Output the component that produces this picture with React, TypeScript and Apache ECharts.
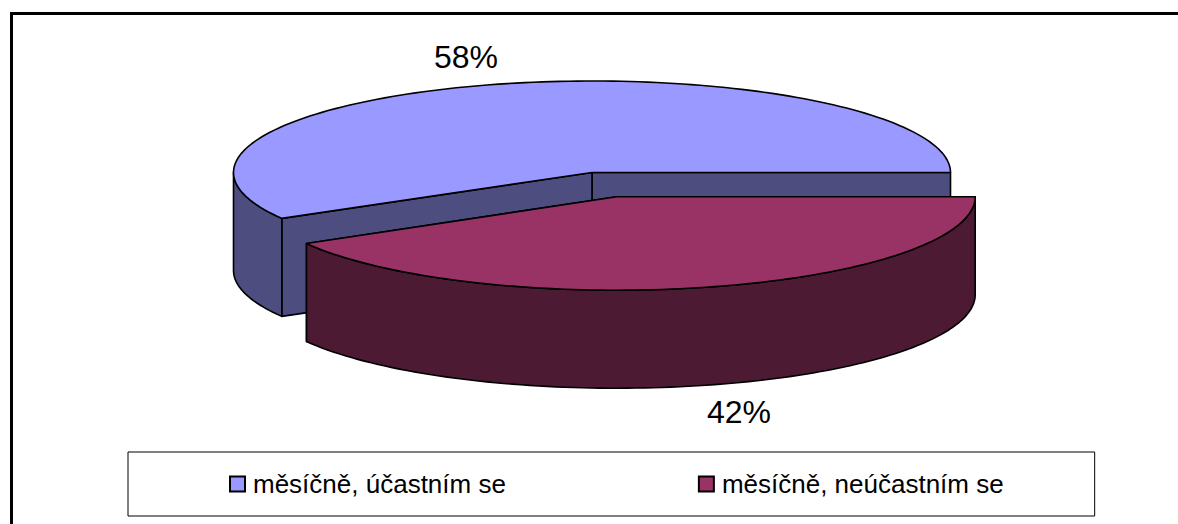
import React, { useEffect, useRef } from "react";
import * as echarts from "echarts";

// Survey answers and their shares in percent
const categories = ["měsíčně, účastním se", "měsíčně, neúčastním se"];
const shares = [58, 42];

const topColors = ["#9999FF", "#993366"];
const wallColors = ["#4D4D80", "#4D1A33"];

// Projection of the tilted disc; the pulled-out slice sits slightly nearer the viewer
const RX = 358.5;
const radiiY = [91.5, 93.5];
const DEPTH = 98;
const TILT = 1.054;
const centers = [
  [592, 172.5],
  [616.7, 196.7],
];
const labelSpots = [
  [466, 57],
  [739, 412],
];
const EDGE = { stroke: "#000000", lineWidth: 1.6, lineJoin: "round" as const };

// Maps an angle on the disc (degrees, counter-clockwise from the right) to a screen point.
function rim(index: number, deg: number, drop = 0): number[] {
  const c = centers[index];
  const a = (deg * Math.PI) / 180;
  const t = Math.atan2(TILT * Math.sin(a), Math.cos(a));
  return [c[0] + RX * Math.cos(t), c[1] - radiiY[index] * Math.sin(t) + drop];
}

function arc(index: number, from: number, to: number, drop = 0): number[][] {
  const pts: number[][] = [];
  const steps = Math.max(2, Math.ceil(Math.abs(to - from) / 1.5));
  for (let i = 0; i <= steps; i++) pts.push(rim(index, from + ((to - from) * i) / steps, drop));
  return pts;
}

function renderSlice(index: number) {
  return (_params: any, api: any) => {
    const share = api.value(0);
    const before = shares.slice(0, index).reduce((s, v) => s + v, 0);
    const total = shares.reduce((s, v) => s + v, 0);
    const start = (before / total) * 360;
    const end = ((before + share) / total) * 360;
    const c = centers[index];
    const wall = { ...EDGE, fill: wallColors[index] };
    const children: any[] = [];
    const poly = (points: number[][], style: any) =>
      children.push({ type: "polygon", shape: { points }, style });

    // Cut faces that look towards the viewer
    for (const deg of [start, end]) {
      const isFront = !(deg > 0 && deg < 180);
      if (isFront) {
        poly([c, rim(index, deg), rim(index, deg, DEPTH), [c[0], c[1] + DEPTH]], wall);
      }
    }

    // Outer wall: the part of the rim on the near half of the disc
    const from = Math.max(start, 180);
    if (end > from) {
      poly([...arc(index, from, end), ...arc(index, end, from, DEPTH)], wall);
    }

    // Top face
    poly([c, ...arc(index, start, end)], { ...EDGE, fill: topColors[index] });

    // Percentage label
    children.push({
      type: "text",
      x: labelSpots[index][0],
      y: labelSpots[index][1],
      style: {
        text: `${share}%`,
        fill: "#000000",
        font: '32px "Liberation Sans", Arial, sans-serif',
        textAlign: "center",
        textVerticalAlign: "middle",
      },
    });
    return { type: "group", children };
  };
}

export default function App() {
  const ref = useRef<HTMLDivElement>(null);

  useEffect(() => {
    const chart = echarts.init(ref.current!, null, { renderer: "svg" });
    chart.setOption({
      animation: false,
      backgroundColor: "#FFFFFF",
      legend: {
        left: 128,
        top: 452,
        orient: "horizontal",
        backgroundColor: "#FFFFFF",
        borderColor: "#000000",
        borderWidth: 1,
        padding: [19, 91, 19, 101],
        itemGap: 192,
        itemWidth: 15,
        itemHeight: 15,
        selectedMode: false,
        textStyle: {
          fontFamily: '"Liberation Sans", Arial, sans-serif',
          fontSize: 26,
          color: "#000000",
          padding: [0, 0, 0, 3],
        },
        data: categories.map((name, i) => ({
          name,
          icon: "rect",
          itemStyle: { color: topColors[i], borderColor: "#000000", borderWidth: 2 },
        })),
      },
      graphic: [
        {
          type: "polyline",
          shape: { points: [[11.5, 524], [11.5, 13.5], [1178, 13.5]] },
          style: { stroke: "#000000", lineWidth: 3, fill: "none" },
        },
      ],
      series: categories.map((name, i) => ({
        type: "custom",
        name,
        coordinateSystem: "none",
        silent: true,
        itemStyle: { color: topColors[i] },
        data: [[shares[i]]],
        renderItem: renderSlice(i),
      })),
    });
    return () => chart.dispose();
  }, []);

  return <div ref={ref} style={{ position: "absolute", left: 0, top: 0, width: 1178, height: 524 }} />;
}
